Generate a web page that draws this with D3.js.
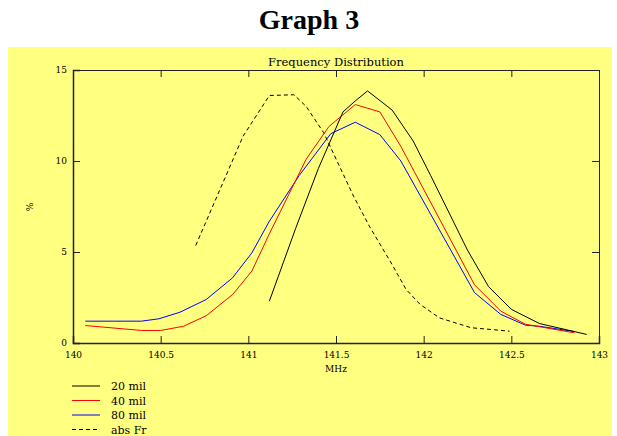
<!DOCTYPE html>
<meta charset="utf-8">
<title>Graph 3</title>
<style>
  body { margin:0; padding:0; background:#fff; }
  svg { display:block; }
  .tick text { font-family: 'DejaVu Serif', serif; font-size: 9px; fill:#000; }
  .lbl { font-family: 'DejaVu Serif', serif; fill:#000; }
</style>
<body>
<svg id="chart" width="617" height="436"></svg>
<script src="https://cdn.jsdelivr.net/npm/d3@7"></script>
<script>

// frequency (MHz) and share (%) for each series
var freq20 = [141.12,141.27,141.40,141.54,141.61,141.68,141.82,141.94,142.04,142.25,142.37,142.50,142.66,142.93],
    pct20  = [2.3,6.3,9.6,12.7,13.3,13.85,12.8,11.1,9.2,5.1,3.1,1.85,1.07,0.47];

var freq40 = [140.07,140.39,140.50,140.63,140.76,140.91,141.02,141.12,141.33,141.46,141.61,141.75,141.87,142.29,142.44,142.58,142.86],
    pct40  = [0.96,0.69,0.69,0.92,1.5,2.66,3.95,6.0,10.1,11.9,13.1,12.7,10.8,3.2,1.75,1.03,0.56];

var freq80 = [140.07,140.39,140.49,140.61,140.76,140.91,141.02,141.12,141.29,141.47,141.61,141.75,141.87,142.29,142.44,142.58,142.66,142.86],
    pct80  = [1.2,1.2,1.33,1.69,2.39,3.58,4.95,6.69,9.2,11.5,12.13,11.45,10.0,2.77,1.57,0.98,0.92,0.63];

var freqAbs = [140.70,140.97,141.12,141.26,141.33,141.43,141.60,141.69,141.82,141.90,141.98,142.09,142.27,142.49],
    pctAbs  = [5.36,11.36,13.6,13.64,13.0,11.55,8.07,6.42,4.31,2.94,2.12,1.38,0.84,0.65];

var xTicks = [140,140.5,141,141.5,142,142.5,143],
    yTicks = [0,5,10,15];

var seriesNames = ['20 mil','40 mil','80 mil','abs Fr'],
    seriesColors = ['#000','#ff0000','#0000ff','#000'],
    seriesDash = [null,null,null,'4,3'];

var svg = d3.select("#chart");

var plotL = 73, plotR = 599, plotT = 70, plotB = 343;

var x = d3.scaleLinear().domain([140,143]).range([plotL,plotR]),
    y = d3.scaleLinear().domain([0,15]).range([plotB,plotT]);

// yellow panel
svg.append("rect")
  .attr("x", 8).attr("y", 47)
  .attr("width", 604).attr("height", 389)
  .attr("fill", "#ffff80");

svg.append("text")
  .attr("x", 309).attr("y", 29)
  .attr("text-anchor", "middle")
  .style("font-family", "'Liberation Serif', serif")
  .style("font-weight", "bold")
  .style("font-size", "28px")
  .text("Graph 3");

svg.append("text").attr("class", "lbl")
  .attr("x", 336).attr("y", 66)
  .attr("text-anchor", "middle")
  .style("font-size", "11.5px")
  .text("Frequency Distribution");

//axes, ticks pointing inward
var gx = svg.append("g")
  .attr("transform", "translate(0," + plotB + ")")
  .call(d3.axisBottom(x).tickValues(xTicks).tickSize(-7).tickPadding(12).tickFormat(d3.format("")));
var gxt = svg.append("g")
  .attr("transform", "translate(0," + plotT + ")")
  .call(d3.axisTop(x).tickValues(xTicks).tickSize(-7).tickFormat(""));
var gy = svg.append("g")
  .attr("transform", "translate(" + plotL + ",0)")
  .call(d3.axisLeft(y).tickValues(yTicks).tickSize(-7).tickPadding(6));
var gyr = svg.append("g")
  .attr("transform", "translate(" + plotR + ",0)")
  .call(d3.axisRight(y).tickValues(yTicks).tickSize(-7).tickFormat(""));

[gx,gxt,gy,gyr].forEach(function(g) {
  g.select(".domain").attr("stroke", "#222");
  g.selectAll(".tick line").attr("stroke", "#222");
});
gx.select(".domain").attr("stroke-width", 1.5);
gy.select(".domain").attr("stroke-width", 1.5);
gx.selectAll(".tick text").attr("dy", "0.3em");
gy.selectAll(".tick text").attr("dy", "0.3em");

svg.append("text").attr("class", "lbl")
  .attr("x", 336).attr("y", 372)
  .attr("text-anchor", "middle")
  .style("font-size", "9px")
  .text("MHz");

svg.append("text").attr("class", "lbl")
  .attr("transform", "translate(33,207) rotate(-90)")
  .attr("text-anchor", "middle")
  .style("font-size", "9px")
  .text("%");

var line = d3.line()
  .x(function(d) { return x(d[0]); })
  .y(function(d) { return y(d[1]); });

var series = [
  d3.zip(freq20, pct20),
  d3.zip(freq40, pct40),
  d3.zip(freq80, pct80),
  d3.zip(freqAbs, pctAbs)
];

// draw the dashed one first so solid lines sit on top
[3,2,1,0].forEach(function(i) {
  svg.append("path")
    .datum(series[i])
    .attr("fill", "none")
    .attr("stroke", seriesColors[i])
    .attr("stroke-width", 1)
    .attr("stroke-dasharray", seriesDash[i])
    .attr("d", line);
});

//legend
var legend = svg.append("g");
seriesNames.forEach(function(n, i) {
  var ly = 386 + i * 14.5;
  legend.append("line")
    .attr("x1", 72).attr("x2", 100)
    .attr("y1", ly).attr("y2", ly)
    .attr("stroke", seriesColors[i])
    .attr("stroke-dasharray", seriesDash[i]);
  legend.append("text").attr("class", "lbl")
    .attr("x", 111).attr("y", ly + 4)
    .style("font-size", "11px")
    .text(n);
});

</script>
</body>
</html>
